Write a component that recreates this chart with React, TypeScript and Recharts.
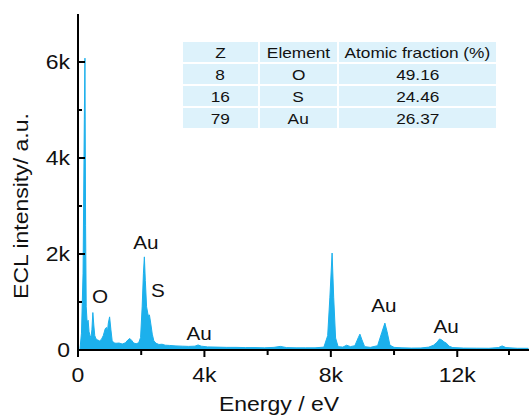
import {
  ComposedChart,
  Area,
  Scatter,
  XAxis,
  YAxis,
} from 'recharts'

// EDS spectrum (energy in eV, counts)
const energies = [
  60, 110, 160, 200, 220, 240, 260, 290, 320, 350, 380, 410, 440, 470, 500,
  530, 570, 620, 680, 740, 800, 860, 900, 930, 960, 1000, 1040, 1080, 1130,
  1200, 1300, 1400, 1500, 1580, 1640, 1700, 1760, 1840, 1920, 1980, 2030,
  2070, 2100, 2130, 2170, 2220, 2260, 2300, 2350, 2400, 2470, 2560, 2660,
  2760, 2900, 3100, 3300, 3500, 3700, 3800, 3900, 4100, 4400, 4700, 5000,
  5300, 5600, 5900, 6200, 6400, 6600, 6900, 7200, 7500, 7780, 7900, 7970,
  8040, 8090, 8150, 8230, 8380, 8500, 8620, 8760, 8870, 8920, 8980, 9070,
  9250, 9480, 9610, 9710, 9780, 9870, 10000, 10250, 10550, 10850, 11100,
  11250, 11360, 11440, 11510, 11580, 11660, 11740, 11860, 12200, 12600,
  13000, 13300, 13420, 13540, 13900, 14250,
]
const counts = [
  0, 350, 1600, 4800, 6080, 2600, 900, 560, 620, 380, 300, 260, 420, 780, 520,
  300, 230, 210, 190, 220, 300, 440, 470, 380, 560, 690, 430, 200, 150,
  140, 145, 125, 150, 210, 240, 200, 145, 130, 150, 260, 900,
  1600, 1940, 1450, 900, 720, 730, 560, 330, 190, 140, 115, 120,
  100, 95, 85, 80, 75, 80, 105, 80, 65, 60, 55, 55,
  50, 50, 45, 55, 75, 50, 45, 45, 45, 60, 300, 1100,
  2020, 1100, 250, 70, 60, 100, 70, 90, 260, 330, 220, 70,
  55, 90, 360, 560, 380, 100, 55, 45, 40, 42, 60,
  100, 160, 230, 210, 170, 140, 80, 50, 40, 38,
  36, 50, 85, 50, 36, 35,
]

// peak labels
const peakLabels = ['O', 'Au', 'S', 'Au', 'Au', 'Au']
const peakEnergies = [700, 2150, 2530, 3830, 9680, 11650]
const peakCounts = [1125, 2230, 1230, 350, 920, 480]

// composition table
const tableHeaders = ['Z', 'Element', 'Atomic fraction (%)']
const zValues = ['8', '16', '79']
const elements = ['O', 'S', 'Au']
const fractions = ['49.16', '24.46', '26.37']

const xTicks = [0, 2000, 4000, 6000, 8000, 10000, 12000, 14000]
const yTicks = [0, 1000, 2000, 3000, 4000, 5000, 6000]

const WIDTH = 529
const HEIGHT = 415
const PLOT_LEFT = 78
const PLOT_TOP = 14
const PLOT_BOTTOM = 350
const FONT = '"Liberation Sans", Arial, sans-serif'
const STRETCH = 1.15
const BLUE = '#1cb0ec'

const data = energies.map((e, i) => ({ energy: e, count: counts[i] }))
const peaks = peakLabels.map((label, i) => ({
  energy: peakEnergies[i],
  count: peakCounts[i],
  label,
}))

const fmtK = (v: number) => (v === 0 ? '0' : `${v / 1000}k`)

function YTick({ y, payload }: any) {
  const major = payload.value % 2000 === 0
  return (
    <g>
      <line
        x1={PLOT_LEFT}
        x2={PLOT_LEFT + (major ? 7 : 4)}
        y1={y}
        y2={y}
        stroke="#000"
        strokeWidth={2}
      />
      {major && (
        <text
          transform={`translate(${PLOT_LEFT - 8},${y + 7}) scale(${STRETCH},1)`}
          textAnchor="end"
          fontSize={20}
          fontFamily={FONT}
          fill="#111"
        >
          {fmtK(payload.value)}
        </text>
      )}
    </g>
  )
}

function XTick({ x, payload }: any) {
  const major = payload.value % 4000 === 0
  return (
    <g>
      <line
        x1={x}
        x2={x}
        y1={PLOT_BOTTOM}
        y2={PLOT_BOTTOM + (major ? 7 : 5)}
        stroke="#000"
        strokeWidth={2}
      />
      {major && (
        <text
          transform={`translate(${x},${PLOT_BOTTOM + 32}) scale(${STRETCH},1)`}
          textAnchor="middle"
          fontSize={20}
          fontFamily={FONT}
          fill="#111"
        >
          {fmtK(payload.value)}
        </text>
      )}
    </g>
  )
}

function PeakLabel(props: any) {
  const { cx, cy, payload } = props
  return (
    <text
      transform={`translate(${cx},${cy + 6.5}) scale(${STRETCH},1)`}
      textAnchor="middle"
      fontSize={18}
      fontFamily={FONT}
      fill="#111"
    >
      {payload.label}
    </text>
  )
}

const xTitle = () => (
  <text
    transform={`translate(279,411) scale(${STRETCH},1)`}
    textAnchor="middle"
    fontSize={20}
    fontFamily={FONT}
    fill="#111"
  >
    Energy / eV
  </text>
)

const yTitle = () => (
  <text
    transform={`translate(28,206) rotate(-90) scale(${STRETCH},1)`}
    textAnchor="middle"
    fontSize={20}
    fontFamily={FONT}
    fill="#111"
  >
    ECL intensity/ a.u.
  </text>
)

function CompositionTable() {
  const colWidths = [75, 77, 157]
  const rows = [tableHeaders, ...zValues.map((z, i) => [z, elements[i], fractions[i]])]
  return (
    <div
      style={{
        position: 'absolute',
        left: 183,
        top: 42,
        display: 'grid',
        gridTemplateColumns: colWidths.map((w) => `${w}px`).join(' '),
        gridAutoRows: '20px',
        gap: 2,
        fontFamily: FONT,
        fontSize: 15,
        color: '#111',
      }}
    >
      {rows.flatMap((row, r) =>
        row.map((cell, c) => (
          <div
            key={`${r}-${c}`}
            style={{
              background: '#ddf2fb',
              display: 'flex',
              alignItems: 'center',
              justifyContent: 'center',
            }}
          >
            <span style={{ display: 'inline-block', transform: `scaleX(${STRETCH})` }}>
              {cell}
            </span>
          </div>
        ))
      )}
    </div>
  )
}

export default function App() {
  return (
    <div
      style={{
        position: 'absolute',
        left: 0,
        top: 0,
        width: WIDTH,
        height: HEIGHT,
        overflow: 'hidden',
        background: '#fff',
      }}
    >
      <ComposedChart
        width={WIDTH}
        height={HEIGHT}
        data={data}
        margin={{ top: PLOT_TOP, right: 0, left: 0, bottom: 0 }}
      >
        <XAxis
          dataKey="energy"
          type="number"
          domain={[0, 14270]}
          allowDataOverflow
          ticks={xTicks}
          tick={<XTick />}
          tickLine={false}
          height={HEIGHT - PLOT_BOTTOM}
          axisLine={{ stroke: '#000', strokeWidth: 2 }}
          label={{ content: xTitle }}
        />
        <XAxis
          xAxisId="top"
          orientation="top"
          type="number"
          domain={[0, 14270]}
          tick={false}
          tickLine={false}
          height={0}
          axisLine={{ stroke: '#000', strokeWidth: 2 }}
        />
        <YAxis
          type="number"
          domain={[0, 7000]}
          ticks={yTicks}
          tick={<YTick />}
          tickLine={false}
          width={PLOT_LEFT}
          axisLine={{ stroke: '#000', strokeWidth: 2 }}
          label={{ content: yTitle }}
        />
        <Area
          type="linear"
          dataKey="count"
          stroke={BLUE}
          strokeWidth={1}
          fill={BLUE}
          fillOpacity={1}
          baseValue={0}
          isAnimationActive={false}
        />
        <Scatter
          data={peaks}
          dataKey="count"
          shape={PeakLabel}
          isAnimationActive={false}
        />
      </ComposedChart>
      <CompositionTable />
    </div>
  )
}
